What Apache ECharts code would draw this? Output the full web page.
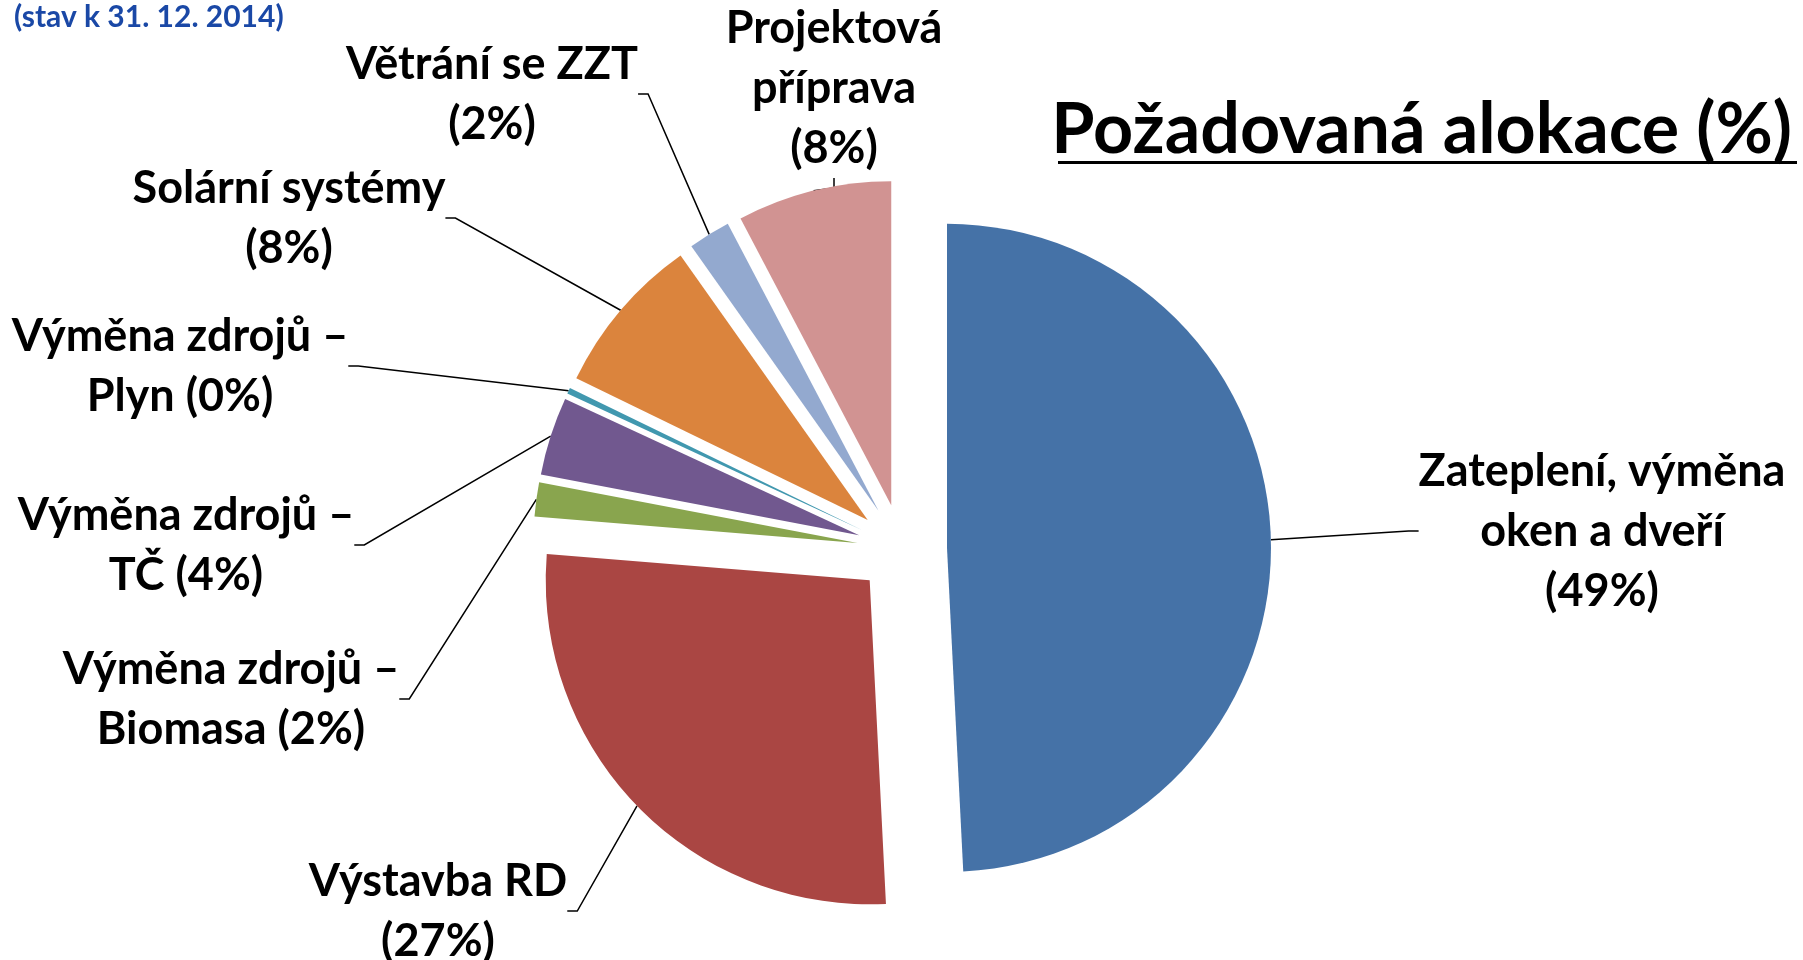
<!DOCTYPE HTML>
<html>
<head>
    <meta charset="UTF-8">
    <title>Požadovaná alokace</title>
    <style>
        html, body { margin: 0; padding: 0; background-color: #ffffff; }
        #main { width: 1803px; height: 960px; }
    </style>
    <script src="https://cdn.jsdelivr.net/npm/echarts@6/dist/echarts.min.js"></script>
</head>
<body>
<div id="main"></div>
<script type="text/javascript">
    // data (share in %)
    var categories = [
        'Zateplení, výměna oken a dveří',
        'Výstavba RD',
        'Výměna zdrojů – Biomasa',
        'Výměna zdrojů – TČ',
        'Výměna zdrojů – Plyn',
        'Solární systémy',
        'Větrání se ZZT',
        'Projektová příprava'
    ];
    var shares = [49.2, 27.1, 1.7, 3.9, 0.3, 8.0, 2.1, 7.7];
    var colors = ['#4572A7', '#AA4643', '#89A54E', '#71588F', '#4198AF', '#DB843D', '#93A9CF', '#D19392'];

    // label wrapping + where each label block sits (layout only)
    var labelWrap = [
        ['Zateplení, výměna', 'oken a dveří', '({p}%)'],
        ['Výstavba RD', '({p}%)'],
        ['Výměna zdrojů –', 'Biomasa ({p}%)'],
        ['Výměna zdrojů –', 'TČ ({p}%)'],
        ['Výměna zdrojů –', 'Plyn ({p}%)'],
        ['Solární systémy', '({p}%)'],
        ['Větrání se ZZT', '({p}%)'],
        ['Projektová', 'příprava', '({p}%)']
    ];
    var labelPos = [
        [1602, 531], [438, 911], [231, 699], [186, 545],
        [180, 366], [289, 218], [492, 94], [834, 88]
    ];

    var pieCenter = [902, 549];
    var pieRadius = 324;
    var explode = 45;

    var myChart = echarts.init(document.getElementById('main'));

    // exploded slices
    var sliceData = categories.map(function (name, i) {
        return {
            name: name,
            value: shares[i],
            selected: true,
            itemStyle: { color: colors[i] }
        };
    });

    // invisible twin pie, as big as the exploded one, only carries the labels
    var labelData = categories.map(function (name, i) {
        return { name: name, value: shares[i] };
    });

    var option = {
        backgroundColor: '#ffffff',
        animation: false,
        title: [
            {
                text: '(stav k 31. 12. 2014)',
                left: 9,
                top: -3,
                textStyle: { fontFamily: 'Lato', fontWeight: 'bold', fontSize: 30, color: '#1a48a6' }
            },
            {
                text: 'Požadovaná alokace (%)',
                right: 6,
                top: 90,
                textStyle: { fontFamily: 'Lato', fontWeight: 'bold', fontSize: 70, color: '#000' }
            }
        ],
        graphic: [
            {
                type: 'rect',
                right: 6,
                top: 161,
                shape: { width: 739, height: 3 },
                style: { fill: '#000' }
            }
        ],
        series: [
            {
                type: 'pie',
                center: pieCenter,
                radius: pieRadius,
                startAngle: 90,
                clockwise: true,
                selectedMode: 'multiple',
                selectedOffset: explode,
                silent: true,
                itemStyle: { borderWidth: 0 },
                select: { itemStyle: { borderWidth: 0 } },
                emphasis: { disabled: true },
                label: { show: false },
                labelLine: { show: false },
                data: sliceData
            },
            {
                type: 'pie',
                center: pieCenter,
                radius: pieRadius + explode,
                startAngle: 90,
                clockwise: true,
                silent: true,
                avoidLabelOverlap: false,
                itemStyle: { color: 'rgba(0,0,0,0)', borderWidth: 0 },
                emphasis: { disabled: true },
                label: {
                    show: true,
                    position: 'outside',
                    fontFamily: 'Lato',
                    fontWeight: 'bold',
                    fontSize: 45,
                    lineHeight: 60,
                    color: '#000',
                    align: 'center',
                    formatter: function (p) {
                        var pct = Math.round(p.percent);
                        return labelWrap[p.dataIndex].join('\n').replace('{p}', pct);
                    }
                },
                labelLine: {
                    show: true,
                    length: 20,
                    length2: 10,
                    smooth: false,
                    lineStyle: { color: '#000', width: 1.5 }
                },
                labelLayout: function (params) {
                    var pos = labelPos[params.dataIndex];
                    return {
                        x: pos[0],
                        y: pos[1],
                        align: 'center',
                        verticalAlign: 'middle'
                    };
                },
                data: labelData
            }
        ]
    };
    myChart.setOption(option);
</script>
</body>
</html>
